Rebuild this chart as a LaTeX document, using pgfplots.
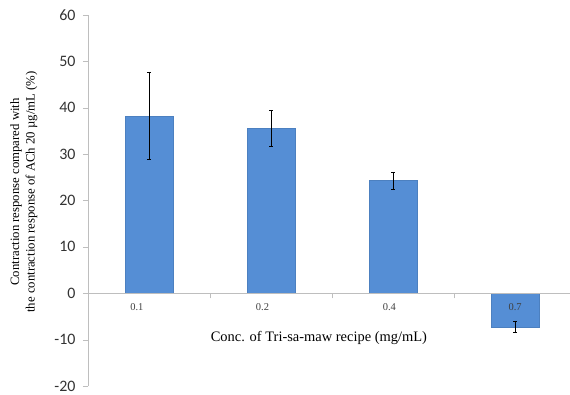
\documentclass[border=0pt]{standalone}
\usepackage{fontspec}
\setmainfont{Liberation Serif}
\newfontfamily\tickfont{Carlito}
\usepackage{pgfplots}
\pgfplotsset{compat=1.18}
\usetikzlibrary{calc}
\definecolor{barblue}{RGB}{85,142,213}
\definecolor{axgray}{RGB}{190,190,190}
\begin{document}
\begin{tikzpicture}
\begin{axis}[
  name=ax,
  scale only axis,
  axis on top,
  width=482bp, height=371bp,
  xmin=-0.5, xmax=3.45,
  ymin=-20, ymax=60,
  ytick={-20,-10,...,60},
  axis x line=middle,
  axis y line=left,
  axis line style={axgray, -},
  x axis line style={axgray},
  xtick={-0.1,0.93,1.97,3},
  xticklabels={0.1,0.2,0.4,0.7},
  major x tick style={draw=none},
  minor xtick={0.5,1.5,2.5},
  minor x tick style={axgray},
  minor tick length=5bp,
  x tick label style={font=\fontsize{10.5}{10.5}\selectfont, text=black!75, yshift=-2bp},
  ytick style={axgray},
  major tick length=5bp,
  tick align=outside,
  y tick label style={font=\tickfont\fontsize{16}{16}\selectfont, text=black!80, xshift=-4bp, inner ysep=0pt},
  /pgf/number format/assume math mode=true,
  xlabel={Conc. of Tri-sa-maw recipe (mg/mL)},
  xlabel style={font=\fontsize{14.5}{14.5}\selectfont, at={(axis description cs:0.479,0.13)}, anchor=center},
  ylabel={Contraction response compared with\\the contraction response of ACh 20 µg/mL (\%)},
  ylabel style={font=\fontsize{12.8}{15.5}\selectfont, align=center, at={(axis description cs:-0.133,0.523)}, anchor=center},
  clip=false,
]
\addplot[ybar, bar width=48bp, fill=barblue, draw=barblue!90!black, line width=0.3pt,
  error bars/.cd, y dir=both, y explicit,
  error bar style={black, line width=0.6pt},
  error mark options={rotate=90, mark size=1.8bp, black, line width=0.6pt}]
coordinates {
  (0,38.2) +- (0,9.4)
  (1,35.5) +- (0,3.9)
  (2,24.3) +- (0,1.8)
  (3,-7.3) +- (0,1.2)
};
\end{axis}
\pgfresetboundingbox
\path[use as bounding box] ($(ax.south west)+(-88bp,-9bp)$) rectangle ($(ax.north east)+(0bp,15bp)$);
\end{tikzpicture}
\end{document}
